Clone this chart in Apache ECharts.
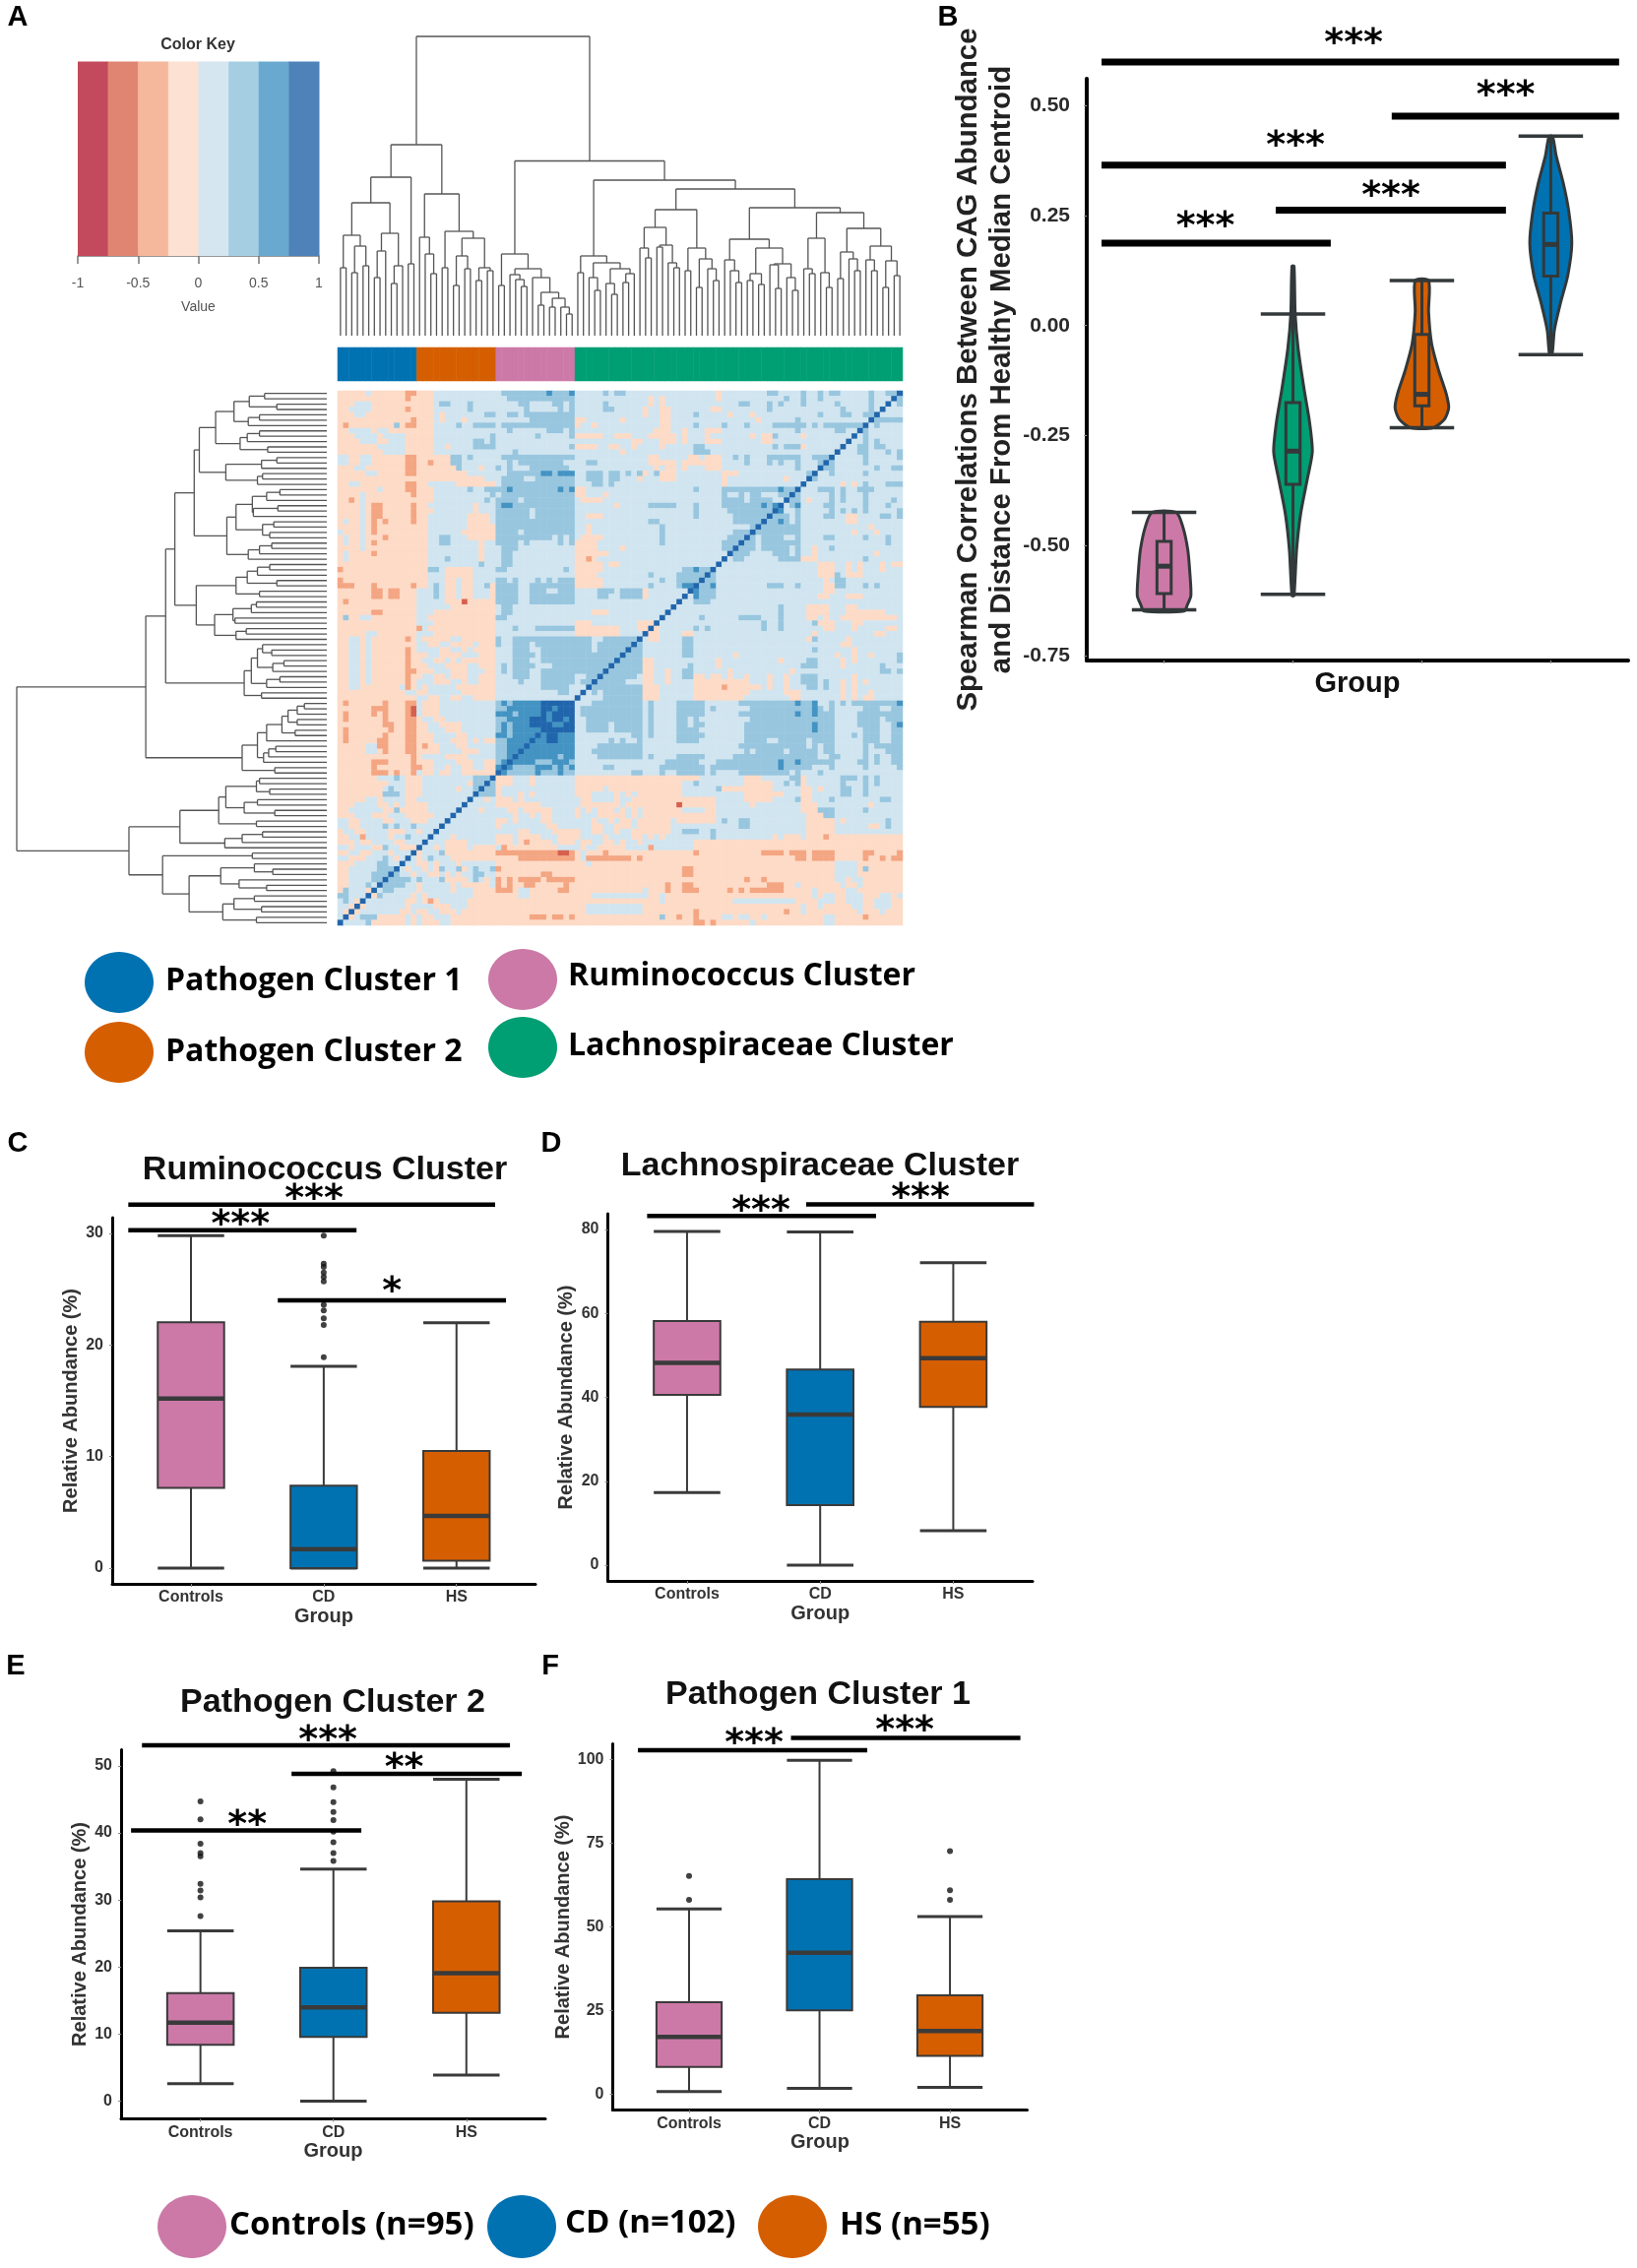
<!DOCTYPE html>
<html><head><meta charset="utf-8">
<style>html,body{margin:0;background:#fff}#c{width:1663px;height:2304px;filter:blur(0.5px)}</style>
<script src="https://cdn.jsdelivr.net/npm/echarts@6/dist/echarts.min.js"></script>
</head><body><div id="c"></div>
<script>
// ---------- Heatmap: upper-left triangle of the symmetric matrix, run-length per row ----------
// o light orange, . light blue, + mid blue, # blue, @ deep blue, s salmon, r red
const corrRows = [
"o5 .1 o6 s2 o3 .12 +8 #1 +3 #1 .5 +1 .1 +1 +1 .16 o1 .8 +2 .4 +1 .2 +1 .1 +2 .5 +1 .2 +2",
"o12 s1 o4 .13 +12 .13 o1 .1 o1 .9 o1 .11 +1 .2 +1 .2 +1 .8 +1 .3",
"o3 .3 o11 .1 +2 .3 +1 .8 +2 .4 +2 .1 +1 .5 +1 .7 o1 .1 o1 .13 +2 .3 +1 .1 +1 .3 +1 .5 +1 .5 +1 .2",
"o2 .4 o6 s1 o4 .6 +1 .9 +1 .5 +1 .1 +1 .5 +2 .5 o1 .2 o2 .7 o2 .8 +1 .12 +1 .4 +1 .1",
"o3 .2 o12 .1 o1 .6 .1 +2 .2 +2 .1 +9 .12 o1 .2 o2 .4 +1 .5 o1 .3 o1 .11 +1 .3 +2 .2 +2",
"o13 s1 o3 .1 o1 .3 o1 .11 +8 o2 .6 o1 .6 o2 .15 o1 .6 +1 .12",
"o1 s1 o8 +1 o1 s2 o3 .4 +1 .2 +4 .1 +13 o1 .2 o1 .11 o2 .4 +1 .4 +1 .3 +1 .4 +6 .1 +1 .1 +7",
"o2 .4 o1 .2 o8 .13 +1 .6 +3 .1 +1 .14 o3 .2 o1 .3 o3 .13 +1 .6 +2 .2",
"o3 .4 o1 .4 o5 .10 +1 .7 +1 .5 +1 o5 .2 o1 o2 .3 o5 .1 o1 .3 o1 .7 o1 .1 o2 +1 .4 o1 .8",
"o4 .3 o2 .3 o5 .7 +2 .1 +1 .24 o2 .3 o3 .1 o1 .3 o3 .7 o2 .13",
"o7 .5 o5 .2 o1 .4 +4 .13 +1 o4 .2 o2 .2 o1 .4 o1 .5 +2 .12 +1 .1 +3 o1 .6",
"o8 .4 o5 .14 +1 .18 o1 .12 +3 .22",
".2 o2 .2 o6 s2 o6 +2 .1 +1 .5 +13 .13 o2 .5 o2 .1 o3 .2 +1 .1 +1 .3 +6 .2 +3",
".2 o2 .2 o6 s2 o2 s1 o3 +2 .8 +1 .1 +8 .2 .2 +2 .9 o5 .1 o7 .4 +1 .3 +1 .1 +1 .2 +1 .3 +1",
"o3 .2 o7 s2 o7 +1 .3 o1 .2 +1 .1 +1 .3 +7 .15 o1 .1 o2 .1 o1 .3 o3 .13 +1 .3",
"o5 .2 o5 s2 o9 .7 +6 #2 +1 #3 .2 +3 .1 +2 .1 +1 .1 +1 o1 .1 +1 o3 .8 o3 .12 +1",
"o26 .3 +4 .2 +7 .2 +3 .1 +2 .3 o1 .3 o3 .8 o1 .10 o1 .3",
"o2 .2 o8 s2 o2 .5 o7 .1 +13 .3 +2 .1 +1 .19 o1 .13",
"o7 .1 o4 s2 o3 .6 +1 .2 +4 #1 +8 #1 +1 #1 o2 .19 +1 .4 +10 #1 +2",
"o4 .1 o8 s1 o3 .10 +1 .1 +13 o2 .3 o1 .20 +1 .2 +1 .1 +2 .3 +2",
"o2 s1 o1 .1 o12 .9 +1 .1 +4 .1 +9 .1 o4 .21 +4 .1 +4 .2",
"o4 .1 o1 s2 o5 s1 o2 .8 o1 .3 +1 #2 +11 .7 o1 .5 +5 .3 +1 .4 +7 #1 +1 #1",
"o4 .1 o1 s2 o5 s1 o3 .7 o1 .3 +6 .1 +7 .21 +1 .5 +8",
"o4 .1 o1 s2 o5 s1 o2 .7 o4 .1 +6 .1 +7 .2 o3 .16 +1 .6 +6",
"o1 .1 o2 .1 o1 s1 o1 s1 o4 s1 o2 .7 o4 .1 +14 .13 +2 .13 +5",
"o4 .1 o1 s1 o9 .7 o5 +14 .2 o1 .12 +1 .15 +1",
".1 o3 .1 o1 s1 o9 .6 o6 +4 .1 +9 .2 o1 .12 +1 .12 +3",
"o1 .1 o2 .1 o3 s1 o7 .2 +2 .3 o5 +10 .1 +1 .1 +1 .1 o4 .10 +1 .11 +3",
"o1 .1 o2 .1 o1 s1 o9 .2 +2 .5 o1 .2 +4 .1 +1 .5 +1 .1 +1 o4 .11 +1 .10 +3",
"o4 .1 o11 .9 o1 .3 +3 .10 o4 .4 o1 .17 +2",
"o1 .1 o4 s1 o9 .9 o1 .3 +2 .11 o6 .21",
"o1 .1 o14 .3 +1 .5 o1 .3 +2 .11 o2 s1 o1 .22",
"o16 .9 +1 .3 +2 .11 o5 .1 o2 .17",
"s1 o15 +2 .1 o5 .4 +2 .10 +1 .1 o5 .14 +2 #1 +2",
"o16 .3 o5 .4 .14 o4 .9 +1 .4 +5",
"s1 o15 .3 o2 .1 o2 .4 +2 .1 +1 .3 +1 .1 +1 .1 +3 o5 .10 +1 .2 +4",
"s3 o3 s1 o6 s1 o2 .1 +1 .1 o2 .1 o2 .2 +1 o1 +4 .2 +8 o5 .8 +1 .4 +1 #2",
"o6 s2 o1 s2 o3 .3 +1 .1 o2 .1 o2 .3 o1 +4 .2 +3 .2 +3 .4 +3 .1 +4 o1 .7",
"o6 s2 o1 s2 o3 .3 +1 .1 o2 .1 o2 .3 o1 +4 .2 +8 .4 +2 .2 +4 o1 .6",
"o1 s1 o12 .5 o3 r1 o5 +4 .2 +8 .18",
"o14 .6 o8 .1 +2 .28",
"o6 s2 o6 .3 o11 .1 +2 .14 o3 .10",
"o1 +1 o2 .2 o8 .2 o12 +2 .27",
"o14 .3 o11 .14 o3 .8 o3",
"o14 s1 .1 o12 .3 +1 .3 +7 o8 .3 o2",
"o5 .2 o7 .3 o11 .14 o8 .4",
"o2 .2 o1 .1 o6 s1 o1 .1 o5 .2 o6 +1 .2 +3 +11 .2 +6",
"o2 .2 o1 .1 o8 .2 o2 .2 o4 .1 o3 +1 .2 +3 .1 +10 .1 +6",
"o2 .2 o1 .1 o6 s1 o1 .4 o2 .2 o1 .1 o4 .3 +3 .2 +9 .1 +5",
"o2 .2 o1 .1 o6 s1 o3 .2 o4 .3 o3 .3 +4 .1 +14",
"o2 .2 o1 .1 o6 s1 o2 .2 o2 .1 o1 .1 o1 o5 .3 +3 .2 +13",
"o2 .2 o1 .1 o6 s1 o3 .3 o4 .2 o3 .1 +1 .1 +4 .3 +10",
"o2 .2 o1 .1 o6 s2 o3 .3 o3 .3 o2 .1 +1 .1 +3 .2 +11",
"o2 .2 o1 .1 o6 s1 o2 .2 o2 .1 o3 .2 o3 .3 +3 .2 +6 .2 +2",
"o2 .2 o1 .1 o6 s1 o1 .3 o3 .2 o1 .2 o3 .4 +1 .3 +6 .1 +2",
"o2 .2 o7 .1 s1 o1 .1 o1 .5 o7 .8 +5 .3",
"o12 .2 o2 .6 o6 .11 +2 .2",
"o14 .2 o2 .2 o2 .2 o4 .14",
"o1 s1 o6 s1 o3 s2 .1 o3 .10 +1 #1 +1 #5 @5",
"o6 s3 o3 s1 r1 .1 o3 .10 +2 #6 @2 #1 @1",
"o1 s1 o4 s1 o1 s1 o3 s1 r1 .1 o3 .10 #3 +1 #4 @1 #1 @1 #1",
"o1 s1 o6 s1 o3 s2 o1 .2 o2 .9 +2 #4 @3 #1",
"o8 s2 o2 s2 o2 .2 o4 .6 +1 #1 +1 #3 @3",
"o1 s1 o7 s1 o2 s2 o2 .3 o3 .6 +1 #1 +1 #5",
"o1 s1 o6 s1 o3 s2 o3 .4 o2 .5 #2 +1 #4",
"o1 s1 o5 s2 o3 s2 o3 .3 o3 .1 o1 .1 o2 +2 #4",
"o5 .2 s2 o3 s2 o1 s1 o2 .3 o2 .5 +2 #3",
"o5 .2 o1 s1 o3 s2 o4 .4 o3 .3 +2 #2",
"o13 s1 o1 .4 o4 .5 +2 #1",
"o6 s3 o4 s1 o3 .4 o3 .2 o2 +1 #1",
"o6 s1 o6 s2 o2 .2 o1 .2 o2 .2 o2 #1",
"o6 s3 o1 s1 o2 s1 .1 o2 .1 o2 .2 o6",
"o7 .3 +1 .1 o3 .7 .2 +3",
"o9 .3 o3 .8 o1 +2",
"o8 .1 +1 .2 o3 .6 o1 .2 +1",
"o8 +3 .1 o3 .9",
"o5 .2 o1 .4 o2 .9",
"o3 .4 o2 .1 o1 .1 o4 .6",
"o2 .6 o2 +1 o1 o4 .5",
"o3 .3 o3 .3 o5 .3",
".2 o2 .4 o2 .3 o3 .3",
".2 o2 .4 +1 .1 +1 .2 +1 .4",
"o1 .2 o2 .4 o3 .2 o1 .2",
"o2 .2 s1 .4 o1 .2 +1 .3",
"o3 .1 o2 .4 o2 .3",
".2 o1 .3 o2 +1 .2 o3",
"o2 .2 o2 .3 o1 .3",
".2 o3 .3 +1 .1 o1 .1",
"o3 .4 +2 .2",
"o2 .5 +3",
"o2 .4 +3",
"o2 .4 +2",
"o2 .3 +1 .1",
"o1 +1 .3 o1",
"+2 .3",
".1 +1 .1 o1",
".2 o1",
".1 o1",
".1",
""
];
const levelValues = {r:-0.6, s:-0.35, o:-0.1, '.':0.1, '+':0.35, '#':0.6, '@':0.9};
const heatColors = ['#B2182B','#D6604D','#F4A582','#FDDBC7','#D1E5F0','#98C6DF','#4393C3','#2166AC'];
const keyColors  = ['#C24A5C','#E08572','#F6B89C','#FDE1D2','#D6E6F0','#A6CEE3','#69A9CF','#4E82B9'];
const keyBreaks  = [-1,-0.75,-0.5,-0.25,0,0.25,0.5,0.75,1];
const keyTicks   = [-1,-0.5,0,0.5,1];

// ---------- Column clusters (leaf counts, left to right) ----------
const clusterNames  = ['Pathogen Cluster 1','Pathogen Cluster 2','Ruminococcus Cluster','Lachnospiraceae Cluster'];
const clusterSizes  = [14,14,14,58];
const clusterColors = ['#0072B2','#D55E00','#CC79A7','#009E73'];

// ---------- Dendrogram: [height, left, right]; 0 is a leaf ----------
const L = 0;
const treeP1 = [161,[135,[102,[69,L,L],[91,[64,L,L],[71,L,L]]],[104,[86,[59,L,L],L],[71,[53,L,L],L]]],[73,L,L]];
const treeP2 = [144,[100,L,[83,L,[63,L,L]]],[106,[69,L,L],[99,[81,[51,L,L],[68,L,L]],[69,[56,L,L],[66,L,L]]]]];
const treeRum = [83,[51,L,L],[68,[62,L,[57,L,[50,L,L]]],[59,L,[44,[31,L,L],[38,[29,L,L],[29,L,[22,L,L]]]]]]];
const treeLach1 = [81,[64,L,L],[74,[59,L,[46,L,L]],[68,[53,L,[42,L,L]],[63,[54,L,L],L]]]];
const treeLach2 = [128,[110,[89,L,[79,L,L]],[92,[90,L,L],[74,L,[69,L,L]]]],[89,[66,L,L],[78,[49,L,L],[68,L,[56,L,L]]]]];
const treeLach3 = [98,[77,L,[66,L,[54,L,L]]],[89,[63,[56,L,L],[52,L,L]],[73,[72,L,[48,L,L]],[59,L,[46,L,L]]]]];
const treeLach4 = [125,[99,[68,L,[63,L,L]],[64,L,[49,L,L]]],[109,[85,[58,L,L],[78,L,[66,L,L]]],[91,[77,L,[66,L,L]],[76,[49,L,L],[61,L,L]]]]];
const treeRoot = [304,[194,treeP1,treeP2],[177.5,treeRum,[158,treeLach1,[149,treeLach2,[130,treeLach3,treeLach4]]]]];

// ---------- Panel B ----------
const violinGroups = ['Ruminococcus','Lachnospiraceae','Pathogen 2','Pathogen 1'];
const violinColors = ['#CC79A7','#009E73','#D55E00','#0072B2'];
const violinPink   = [[-0.424,0.094],[-0.457,0.146],[-0.509,0.184],[-0.561,0.20],[-0.613,0.208],[-0.634,0.18],[-0.648,0.156]];
const violinGreen  = [[0.135,0.008],[0.026,0.017],[-0.052,0.04],[-0.146,0.087],[-0.218,0.128],[-0.286,0.15],[-0.343,0.115],[-0.426,0.06],[-0.509,0.028],[-0.613,0.008]];
const violinOrange = [[0.102,0.052],[0.031,0.052],[-0.042,0.076],[-0.104,0.132],[-0.156,0.19],[-0.187,0.208],[-0.213,0.174],[-0.232,0.087]];
const violinBlue   = [[0.429,0.014],[0.385,0.042],[0.323,0.097],[0.26,0.139],[0.187,0.163],[0.114,0.132],[0.052,0.076],[-0.01,0.028],[-0.065,0.01]];
const violinStats  = [[-0.645,-0.608,-0.546,-0.49,-0.424],[-0.61,-0.36,-0.285,-0.175,0.026],[-0.232,-0.182,-0.156,-0.02,0.102],[-0.066,0.112,0.184,0.255,0.43]];
const violinTicks  = [-0.75,-0.5,-0.25,0,0.25,0.5];
const bracketsB = [[0.515,4.53,0.598,'***',2.47,26],[2.766,4.53,0.475,'***',3.65,28],[0.515,3.652,0.364,'***',2.02,27],[1.866,3.652,0.262,'***',2.76,21],[0.515,2.293,0.187,'***',1.32,24]];

// ---------- Panels C-F: [low, Q1, median, Q3, high] ----------
const groupNames  = ['Controls','CD','HS'];
const groupColors = ['#CC79A7','#0072B2','#D55E00'];
const ruminoBoxes = [[0,7.2,15.2,22.05,29.8],[0,0,1.7,7.4,18.1],[0,0.66,4.67,10.5,22]];
const ruminoOutliers = [[2,18.9],[2,21.8],[2,22.4],[2,23.1],[2,23.6],[2,25.7],[2,26.1],[2,26.5],[2,27],[2,27.3],[2,29.8]];
const ruminoTicks = [0,10,20,30];
const ruminoBrackets = [[0.528,3.291,32.6,'***',1.927,13],[0.528,2.247,30.3,'***',1.373,13],[1.654,3.373,24,'*',2.514,16]];
const lachnoBoxes = [[17.3,40.6,48.2,58.2,79.5],[0,14.3,35.9,46.6,79.4],[8.2,37.7,49.3,58,72.1]];
const lachnoOutliers = [];
const lachnoTicks = [0,20,40,60,80];
const lachnoBrackets = [[0.70,2.42,83.2,'***',1.555,12],[1.895,3.607,85.96,'***',2.753,13]];
const path2Boxes = [[2.6,8.4,11.7,16.1,25.4],[0,9.6,14,19.9,34.6],[3.9,13.2,19.1,29.8,48]];
const path2Outliers = [[1,27.6],[1,30.4],[1,31.4],[1,32.4],[1,36.5],[1,37],[1,38.4],[1,42],[1,44.7],[2,35.8],[2,37],[2,38.6],[2,40.2],[2,41.9],[2,43.1],[2,44.6],[2,46.8],[2,49.2]];
const path2Ticks = [0,10,20,30,40,50];
const path2Brackets = [[0.56,3.328,53.07,'***',1.959,12],[1.685,3.417,48.8,'**',2.532,13],[0.478,2.21,40.37,'**',1.352,12]];
const path1Boxes = [[0.8,8.2,17.2,27.5,55.4],[1.8,25.1,42.3,64.3,99.8],[2.1,11.5,18.9,29.6,53.1]];
const path1Outliers = [[1,58.1],[1,65.3],[3,58.1],[3,61],[3,72.7]];
const path1Ticks = [0,25,50,75,100];
const path1Brackets = [[0.608,2.366,102.85,'***',1.498,14],[1.781,3.54,106.5,'***',2.653,14]];

// ---------- Build ----------
const N = 100;
const grid=[],xAxis=[],yAxis=[],series=[],graphic=[];
const SANS='"Liberation Sans"';
function addText(text,x,y,font,fill,align){graphic.push({type:'text',silent:true,style:{text,x,y,font,fill:fill||'#000',textAlign:align||'center',textVerticalAlign:'middle'}});}
function addEllipse(cx,cy,rx,ry,fill){graphic.push({type:'ellipse',silent:true,shape:{cx,cy,rx,ry},style:{fill}});}
function addGrid(left,top,width,height,xa,ya){const i=grid.length;grid.push({left,top,width,height,containLabel:false});xAxis.push(Object.assign({gridIndex:i},xa));yAxis.push(Object.assign({gridIndex:i},ya));return i;}
const hiddenVal=(min,max,extra)=>Object.assign({type:'value',min,max,show:false,splitLine:{show:false}},extra||{});

// matrix
const matrix=[];
corrRows.forEach((row,r)=>{let s='';row.split(' ').filter(Boolean).forEach(t=>{s+=t[0].repeat(+t.slice(1));});
  s=(s+'.'.repeat(N)).slice(0,N-1-r);matrix.push(s);});
function cell(r,c){const d=N-1-r;if(c===d)return '@';return c<d?matrix[r][c]:matrix[N-1-c][N-1-r];}
const heatData=[];for(let r=0;r<N;r++)for(let c=0;c<N;c++)heatData.push([c,r,levelValues[cell(r,c)]]);
const indexCats=Array.from({length:N},(_,i)=>String(i));

// dendrogram segments
const segments=[];let leafPos=0;
(function walk(n){if(n===L)return{p:leafPos++,h:0};const A=walk(n[1]),B=walk(n[2]);const h=n[0];
  segments.push([A.p,A.h,A.p,h],[A.p,h,B.p,h],[B.p,h,B.p,B.h]);return{p:(A.p+B.p)/2,h};})(treeRoot);

// color key
const gKey=addGrid(79,62.5,245,197.5,
 {type:'value',min:-1,max:1,position:'bottom',splitLine:{show:false},
  axisLine:{show:true,onZero:false,lineStyle:{color:'#777',width:1.5}},
  axisTick:{show:true,length:8,customValues:keyTicks,lineStyle:{color:'#777',width:1.5}},
  axisLabel:{customValues:keyTicks,formatter:v=>String(v),fontSize:14,fontFamily:SANS,color:'#555',margin:21},
  name:'Value',nameLocation:'middle',nameGap:45,nameTextStyle:{fontSize:14,fontFamily:SANS,color:'#555'}},
 hiddenVal(0,1));
series.push({type:'custom',xAxisIndex:gKey,yAxisIndex:gKey,animation:false,silent:true,
 data:keyColors.map((c,i)=>[keyBreaks[i],keyBreaks[i+1]]),
 renderItem:(p,api)=>{const a=api.coord([api.value(0),1]),b=api.coord([api.value(1),0]);
  return{type:'rect',shape:{x:a[0],y:a[1],width:b[0]-a[0]+0.5,height:b[1]-a[1]},style:{fill:keyColors[p.dataIndex]}};}});
addText('Color Key',201,46,'bold 16px '+SANS,'#333');

// top dendrogram
const dendroStyle={stroke:'#555',lineWidth:1.3};
const gTop=addGrid(343,37,574,304,hiddenVal(-0.5,99.5),hiddenVal(0,304));
series.push({type:'custom',xAxisIndex:gTop,yAxisIndex:gTop,animation:false,silent:true,clip:false,data:segments,
 renderItem:(p,api)=>{const a=api.coord([api.value(0),api.value(1)]),b=api.coord([api.value(2),api.value(3)]);
  return{type:'line',shape:{x1:a[0],y1:a[1],x2:b[0],y2:b[1]},style:dendroStyle};}});

// colour strip
const stripData=[];{let c=0;clusterSizes.forEach((n,k)=>{for(let i=0;i<n;i++,c++)stripData.push({value:[c,0,k],itemStyle:{color:clusterColors[k]}});});}
const gStrip=addGrid(343,353,574,34,{type:'category',data:indexCats,show:false},{type:'category',data:['0'],show:false});
series.push({type:'heatmap',xAxisIndex:gStrip,yAxisIndex:gStrip,animation:false,silent:true,progressive:0,data:stripData,itemStyle:{borderWidth:0}});

// left dendrogram
const gLeft=addGrid(17,397,315,543,hiddenVal(0,304,{inverse:true}),hiddenVal(-0.5,99.5));
series.push({type:'custom',xAxisIndex:gLeft,yAxisIndex:gLeft,animation:false,silent:true,clip:false,data:segments,
 renderItem:(p,api)=>{const a=api.coord([api.value(1),api.value(0)]),b=api.coord([api.value(3),api.value(2)]);
  return{type:'line',shape:{x1:a[0],y1:a[1],x2:b[0],y2:b[1]},style:dendroStyle};}});

// heatmap
const gHeat=addGrid(343,397,574,543,{type:'category',data:indexCats,show:false},{type:'category',data:indexCats,show:false,inverse:true});
const heatSeriesIndex=series.length;
series.push({type:'heatmap',xAxisIndex:gHeat,yAxisIndex:gHeat,animation:false,silent:true,progressive:0,data:heatData,itemStyle:{borderWidth:0}});

// legend A
[[121,998,0,168,997],[121,1069,1,168,1069],[531,995,2,577,992],[531,1064,3,577,1063]].forEach(a=>{
 addEllipse(a[0],a[1],35,31,clusterColors[a[2]]);addText(clusterNames[a[2]],a[3],a[4],'bold 32px "Open Sans"','#000','left');});

// panel letters
[['A',18,18],['B',963,18],['C',18,1162],['D',560,1162],['E',16,1693],['F',559,1693]].forEach(a=>addText(a[0],a[1],a[2],'bold 29px '+SANS,'#000'));

// bracket helper
function bracketSeries(g,data,barW){return{type:'custom',xAxisIndex:g,yAxisIndex:g,animation:false,silent:true,clip:false,z:5,
 data:data.map(b=>[b[0],b[1],b[2]]),
 renderItem:(p,api)=>{const b=data[p.dataIndex],a=api.coord([b[0],b[2]]),e=api.coord([b[1],b[2]]),t=api.coord([b[4],b[2]]);
  return{type:'group',children:[
   {type:'rect',shape:{x:a[0],y:a[1]-barW/2,width:e[0]-a[0],height:barW},style:{fill:'#000'}},
   {type:'text',style:{text:b[3],x:t[0],y:a[1]-b[5]+8,font:'bold 38px "DejaVu Sans"',fill:'#000',textAlign:'center',textVerticalAlign:'middle'}}]};}};}

// panel B
const darkLine='#33393a';
const gB=addGrid(1104,80,550,591,
 {type:'value',min:0.4,max:4.6,splitLine:{show:false},axisLine:{show:true,onZero:false,lineStyle:{color:'#000',width:4}},
  axisTick:{show:true,length:3,customValues:[1,2,3,4],lineStyle:{color:'#999'}},axisLabel:{show:false},
  name:'Group',nameLocation:'middle',nameGap:9,nameTextStyle:{fontSize:29,fontWeight:'bold',fontFamily:SANS,color:'#111'}},
 {type:'value',min:-0.76,max:0.56,splitLine:{show:false},axisLine:{show:true,onZero:false,lineStyle:{color:'#000',width:4}},
  axisTick:{show:true,length:3,customValues:violinTicks,lineStyle:{color:'#999'}},
  axisLabel:{customValues:violinTicks,formatter:v=>v.toFixed(2),fontSize:21,fontWeight:'bold',fontFamily:SANS,color:'#2b2b2b',margin:17},
  name:'Spearman Correlations Between CAG Abundance\nand Distance From Healthy Median Centroid',nameLocation:'middle',nameGap:66,
  nameTextStyle:{fontSize:29.4,fontWeight:'bold',fontFamily:SANS,color:'#222',lineHeight:34}});
const violinProfiles=[violinPink,violinGreen,violinOrange,violinBlue];
series.push({type:'custom',xAxisIndex:gB,yAxisIndex:gB,animation:false,silent:true,clip:false,
 data:violinStats.map((s,i)=>[i+1].concat(s)),
 renderItem:(p,api)=>{const i=p.dataIndex,x=i+1,s=violinStats[i],prof=violinProfiles[i];
  const C=(a,b)=>api.coord([a,b]);
  const pts=prof.map(q=>C(x-q[1],q[0])).concat(prof.slice().reverse().map(q=>C(x+q[1],q[0])));
  const ln=(a,b,w)=>({type:'line',shape:{x1:a[0],y1:a[1],x2:b[0],y2:b[1]},style:{stroke:darkLine,lineWidth:w}});
  const top=prof[0][0],bot=prof[prof.length-1][0];
  const a=C(x-0.055,s[3]),b=C(x+0.055,s[1]);
  return{type:'group',children:[
   {type:'polygon',shape:{points:pts,smooth:0.25},style:{fill:violinColors[i],stroke:darkLine,lineWidth:3}},
   ln(C(x,bot),C(x,top),3),
   ln(C(x-0.25,s[0]),C(x+0.25,s[0]),3.5),
   ln(C(x-0.25,s[4]),C(x+0.25,s[4]),3.5),
   {type:'rect',shape:{x:a[0],y:a[1],width:b[0]-a[0],height:b[1]-a[1]},style:{fill:violinColors[i],stroke:darkLine,lineWidth:3}},
   ln(C(x-0.055,s[2]),C(x+0.055,s[2]),5)]};}});
series.push(bracketSeries(gB,bracketsB,7));

// box panels
function boxPanel(cfg){
 const g=addGrid(cfg.left,cfg.top,cfg.width,cfg.height,
  {type:'value',min:cfg.xMin,max:cfg.xMax,splitLine:{show:false},axisLine:{show:true,onZero:false,lineStyle:{color:'#000',width:3}},
   axisTick:{show:true,length:3,customValues:[1,2,3],lineStyle:{color:'#888'}},
   axisLabel:{customValues:[1,2,3],formatter:v=>groupNames[v-1],fontSize:16,fontWeight:'bold',fontFamily:SANS,color:'#333',margin:6},
   name:'Group',nameLocation:'middle',nameGap:cfg.groupGap,nameTextStyle:{fontSize:20,fontWeight:'bold',fontFamily:SANS,color:'#333'}},
  {type:'value',min:cfg.yMin,max:cfg.yMax,splitLine:{show:false},axisLine:{show:true,onZero:false,lineStyle:{color:'#000',width:3}},
   axisTick:{show:true,length:3,customValues:cfg.ticks,lineStyle:{color:'#888'}},
   axisLabel:{customValues:cfg.ticks,formatter:v=>String(v),fontSize:16,fontWeight:'bold',fontFamily:SANS,color:'#333',margin:9},
   name:'Relative Abundance (%)',nameLocation:'middle',nameGap:cfg.nameGap,nameTextStyle:{fontSize:20,fontWeight:'bold',fontFamily:SANS,color:'#333'}});
 series.push({type:'custom',xAxisIndex:g,yAxisIndex:g,animation:false,silent:true,clip:false,
  data:cfg.boxes.map((b,i)=>[i+1].concat(b)),
  renderItem:(p,api)=>{const i=p.dataIndex,x=i+1,s=cfg.boxes[i],hw=0.25;
   const C=(a,b)=>api.coord([a,b]);
   const ln=(a,b,w)=>({type:'line',shape:{x1:a[0],y1:a[1],x2:b[0],y2:b[1]},style:{stroke:'#3a3a3a',lineWidth:w}});
   const a=C(x-hw,s[3]),b=C(x+hw,s[1]);
   return{type:'group',children:[
    ln(C(x,s[0]),C(x,s[1]),2),ln(C(x,s[3]),C(x,s[4]),2),
    ln(C(x-hw,s[0]),C(x+hw,s[0]),3),ln(C(x-hw,s[4]),C(x+hw,s[4]),3),
    {type:'rect',shape:{x:a[0],y:a[1],width:b[0]-a[0],height:b[1]-a[1]},style:{fill:groupColors[i],stroke:'#3a3a3a',lineWidth:2}},
    ln(C(x-hw,s[2]),C(x+hw,s[2]),4.5)]};}});
 if(cfg.outliers.length)series.push({type:'scatter',xAxisIndex:g,yAxisIndex:g,animation:false,silent:true,clip:false,symbol:'circle',symbolSize:6,itemStyle:{color:'#111'},data:cfg.outliers});
 series.push(bracketSeries(g,cfg.brackets,4.5));
 addText(cfg.title,cfg.titleX,cfg.titleY,'bold 34px '+SANS,'#111');
}
boxPanel({title:'Ruminococcus Cluster',titleX:330,titleY:1189,left:114,top:1237,width:430,height:372,xMin:0.407,xMax:3.595,yMin:-1.41,yMax:31.42,ticks:ruminoTicks,boxes:ruminoBoxes,outliers:ruminoOutliers,brackets:ruminoBrackets,groupGap:23,nameGap:32});
boxPanel({title:'Lachnospiraceae Cluster',titleX:833,titleY:1185,left:617.5,top:1233,width:431.5,height:373,xMin:0.405,xMax:3.596,yMin:-3.75,yMax:83.75,ticks:lachnoTicks,boxes:lachnoBoxes,outliers:lachnoOutliers,brackets:lachnoBrackets,groupGap:23,nameGap:32});
boxPanel({title:'Pathogen Cluster 2',titleX:338,titleY:1730,left:123,top:1777.5,width:431,height:375,xMin:0.403,xMax:3.594,yMin:-2.63,yMax:52.4,ticks:path2Ticks,boxes:path2Boxes,outliers:path2Outliers,brackets:path2Brackets,groupGap:20,nameGap:32});
boxPanel({title:'Pathogen Cluster 1',titleX:831,titleY:1722,left:622.5,top:1771.5,width:421,height:372,xMin:0.415,xMax:3.592,yMin:-4.68,yMax:104.76,ticks:path1Ticks,boxes:path1Boxes,outliers:path1Outliers,brackets:path1Brackets,groupGap:22,nameGap:40});

// bottom legend
[[195,2262,0,233,2261],[530,2262,1,574,2259],[805,2262,2,853,2261]].forEach((a,i)=>{
 addEllipse(a[0],a[1],35,32,groupColors[a[2]]);
 addText(groupNames[a[2]]+[' (n=95)',' (n=102)',' (n=55)'][i],a[3],a[4],'bold 33px "Open Sans"','#000','left');});

const chart=echarts.init(document.getElementById('c'),null,{renderer:'canvas'});
chart.setOption({animation:false,backgroundColor:'#fff',grid,xAxis,yAxis,series,graphic:{elements:graphic},
 visualMap:{show:false,type:'piecewise',seriesIndex:heatSeriesIndex,dimension:2,
  pieces:heatColors.map((color,i)=>({min:keyBreaks[i],max:keyBreaks[i+1],color}))}});
</script></body></html>
